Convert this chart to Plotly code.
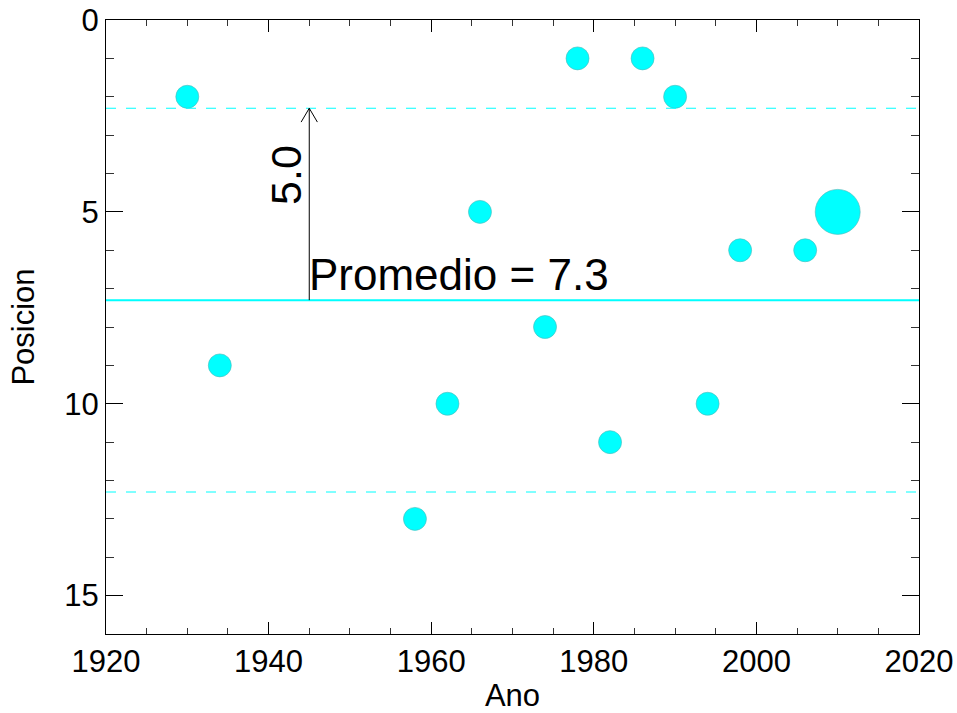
import plotly.graph_objects as go

# ---- data ----
anos = [1930, 1934, 1958, 1962, 1966, 1974, 1978, 1982, 1986, 1990, 1994, 1998, 2006]
posiciones = [2, 9, 13, 10, 5, 8, 1, 11, 1, 2, 10, 6, 6]
ano_actual = [2010]
posicion_actual = [5]
promedio = 7.3
desviacion = 5.0
x_ticks = [1920, 1940, 1960, 1980, 2000, 2020]
y_ticks = [0, 5, 10, 15]

FONT = "Liberation Sans, Arial, sans-serif"
CYAN = "#00FFFF"

fig = go.Figure()

fig.add_trace(go.Scatter(
    x=anos, y=posiciones, mode="markers",
    marker=dict(size=23, color=CYAN, line=dict(width=0.6, color="#4fb8b8")),
    showlegend=False, hoverinfo="x+y"))
fig.add_trace(go.Scatter(
    x=ano_actual, y=posicion_actual, mode="markers",
    marker=dict(size=45, color=CYAN, line=dict(width=0.6, color="#4fb8b8")),
    showlegend=False, hoverinfo="x+y"))

shapes = []
# mean line
shapes.append(dict(type="line", xref="paper", yref="y", x0=0, x1=1, y0=promedio, y1=promedio,
                   line=dict(color=CYAN, width=2)))
# +- desviacion dashed lines
for yv in (promedio - desviacion, promedio + desviacion):
    shapes.append(dict(type="line", xref="paper", yref="y", x0=0, x1=1, y0=yv, y1=yv,
                       line=dict(color=CYAN, width=1, dash="10px,10px")))
# arrow
xa = 1945
tip = promedio - desviacion
shapes.append(dict(type="line", xref="x", yref="y", x0=xa, x1=xa, y0=promedio, y1=tip,
                   line=dict(color="black", width=1)))
for dx in (-1.0, 1.0):
    shapes.append(dict(type="line", xref="x", yref="y", x0=xa, x1=xa + dx, y0=tip, y1=tip + 0.36,
                       line=dict(color="black", width=1)))

annotations = [
    dict(x=xa, y=promedio, xref="x", yref="y", text="Promedio = %.1f" % promedio,
         showarrow=False, xanchor="left", yanchor="bottom", xshift=-2, yshift=-1,
         font=dict(family=FONT, size=44, color="black")),
    dict(x=xa, y=4.03, xref="x", yref="y", text="%.1f" % desviacion, textangle=-90,
         showarrow=False, xanchor="center", yanchor="middle", xshift=-24,
         font=dict(family=FONT, size=43, color="black")),
]

fig.update_layout(
    width=957, height=713,
    margin=dict(l=106, r=38, t=20, b=79, autoexpand=False),
    paper_bgcolor="white", plot_bgcolor="white",
    font=dict(family=FONT, size=31, color="black"),
    shapes=shapes, annotations=annotations,
    showlegend=False,
)

fig.update_xaxes(
    automargin=False,
    range=[1920, 2020], tickvals=x_ticks, ticktext=[str(v) for v in x_ticks],
    ticks="inside", ticklen=12, tickwidth=1, tickcolor="black",
    minor=dict(ticks="inside", dtick=5, tick0=1920, ticklen=6, tickwidth=1, tickcolor="#333333", showgrid=False),
    showline=True, linecolor="black", linewidth=1, mirror="ticks",
    showgrid=False, zeroline=False,
    title=dict(text="Ano", font=dict(family=FONT, size=31), standoff=7),
    tickfont=dict(family=FONT, size=31),
)
fig.update_yaxes(
    automargin=False,
    range=[16, 0], tickvals=y_ticks, ticktext=[str(v) for v in y_ticks],
    ticks="inside", ticklen=17, tickwidth=1, tickcolor="black",
    minor=dict(ticks="inside", dtick=1, tick0=0, ticklen=8, tickwidth=1, tickcolor="#333333", showgrid=False),
    showline=True, linecolor="black", linewidth=1, mirror="ticks",
    showgrid=False, zeroline=False,
    title=dict(text="Posicion", font=dict(family=FONT, size=31), standoff=20),
    tickfont=dict(family=FONT, size=31),
)

fig.write_html("out.html")
